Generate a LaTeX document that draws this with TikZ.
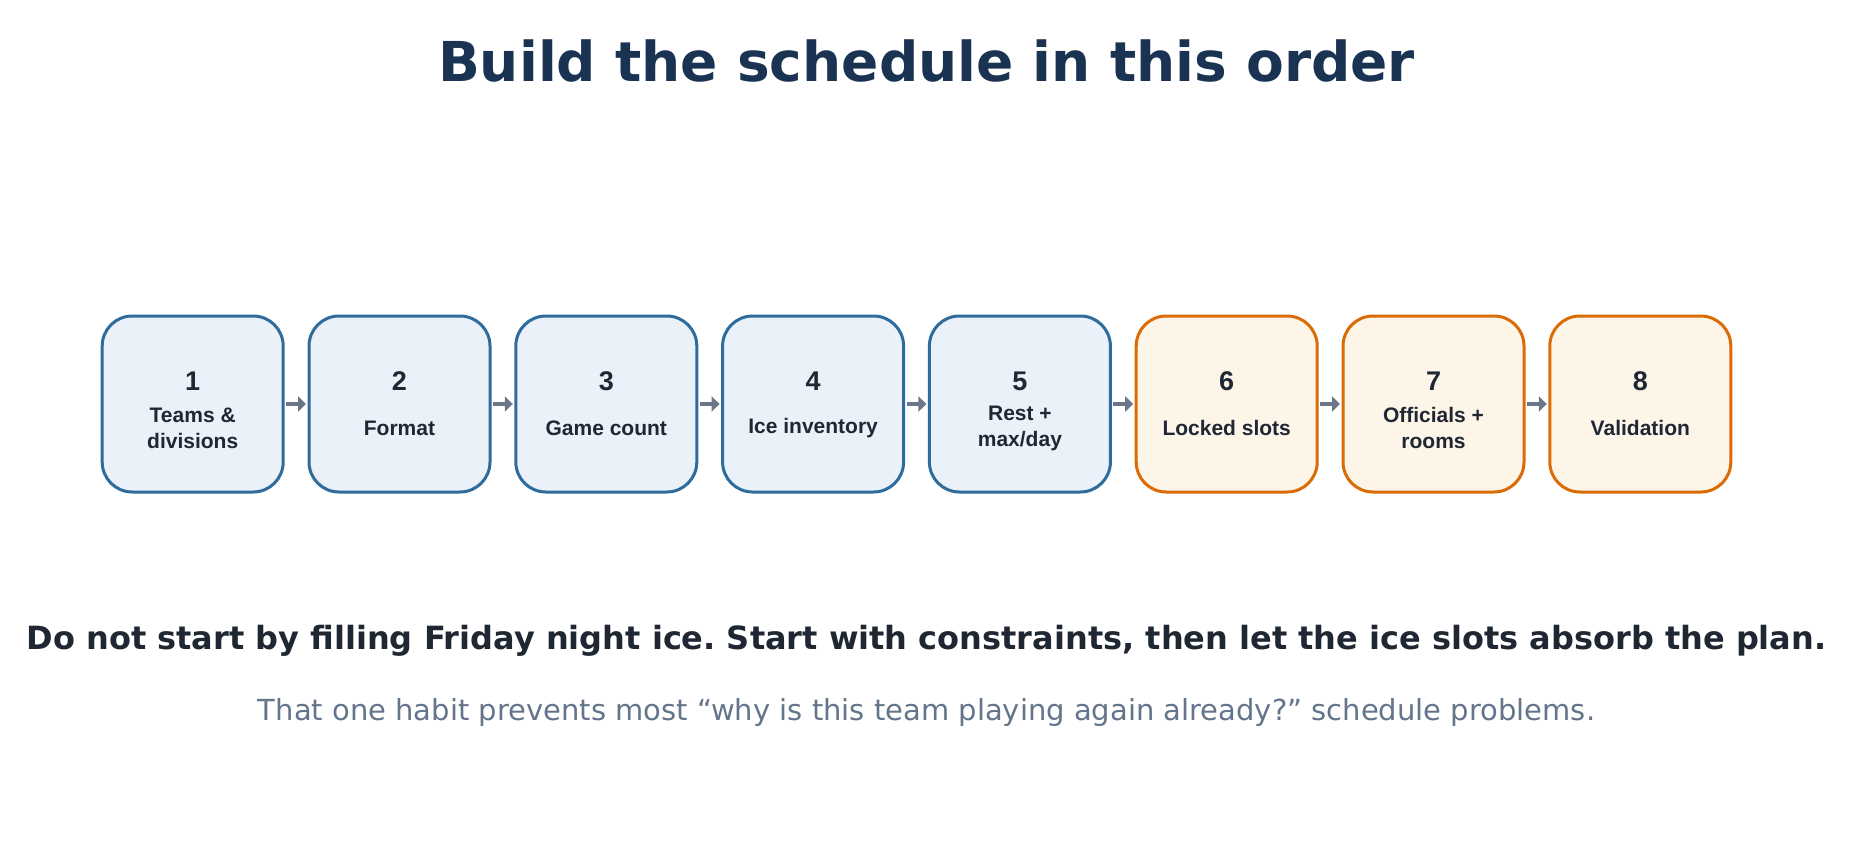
\documentclass[tikz,border=0pt]{standalone}
\usepackage{fontspec}
\setmainfont{DejaVu Sans}
\newfontfamily\boxfont{Liberation Sans}
\usetikzlibrary{arrows.meta}
\frenchspacing

\definecolor{titlenavy}{HTML}{1B3352}
\definecolor{inkdark}{HTML}{1F2733}
\definecolor{subgray}{HTML}{64748B}
\definecolor{lineblue}{HTML}{2F6B9B}
\definecolor{fillblue}{HTML}{EAF1F8}
\definecolor{lineorange}{HTML}{DB6B07}
\definecolor{fillorange}{HTML}{FEF5E9}
\definecolor{arrowgray}{HTML}{6B7788}

\tikzset{
  stepbox/.style={line width=3pt, rounded corners=30pt, minimum width=181pt, minimum height=176pt, inner sep=0pt},
  stepblue/.style={stepbox, draw=lineblue, fill=fillblue},
  steporange/.style={stepbox, draw=lineorange, fill=fillorange},
  stepnum/.style={font=\boxfont\bfseries\fontsize{27}{30}\selectfont, text=inkdark, anchor=base},
  steplabel/.style={font=\boxfont\bfseries\fontsize{21}{26}\selectfont, text=inkdark, align=center},
  flow/.style={draw=arrowgray, line width=4.5pt, shorten <=1.5pt, shorten >=1.5pt, -{Triangle[length=8pt,width=15pt]}}
}

\begin{document}
\begin{tikzpicture}[x=1pt,y=-1pt]
\useasboundingbox (0,0) rectangle (1853,857);

\node[anchor=base, text=titlenavy, font=\bfseries\fontsize{55}{60}\selectfont] (title) at (926.5,81.5) {Build the schedule in this order};

% the eight steps
\foreach \i/\lab/\sty in {1/{Teams \&\\divisions}/stepblue, 2/{Format}/stepblue, 3/{Game count}/stepblue,
    4/{Ice inventory}/stepblue, 5/{Rest +\\max/day}/stepblue, 6/{Locked slots}/steporange,
    7/{Officials +\\rooms}/steporange, 8/{Validation}/steporange} {
  \pgfmathsetmacro{\bx}{192.7+206.8*(\i-1)}
  \node[\sty] (b\i) at (\bx,404) {};
  \node[stepnum] (n\i) at (\bx,390) {\i};
  \node[steplabel] (l\i) at (\bx,428) {\lab};
}

\foreach \i [evaluate=\i as \j using int(\i+1)] in {1,...,7}
  \draw[flow] (b\i.east) -- (b\j.west);

\node[anchor=base, text=inkdark, font=\bfseries\fontsize{32}{36}\selectfont] (note) at (926.5,649) {Do not start by filling Friday night ice. Start with constraints, then let the ice slots absorb the plan.};
\node[anchor=base, text=subgray, font=\fontsize{29}{34}\selectfont] (habit) at (926.5,720) {That one habit prevents most “why is this team playing again already?” schedule problems.};

\end{tikzpicture}
\end{document}
